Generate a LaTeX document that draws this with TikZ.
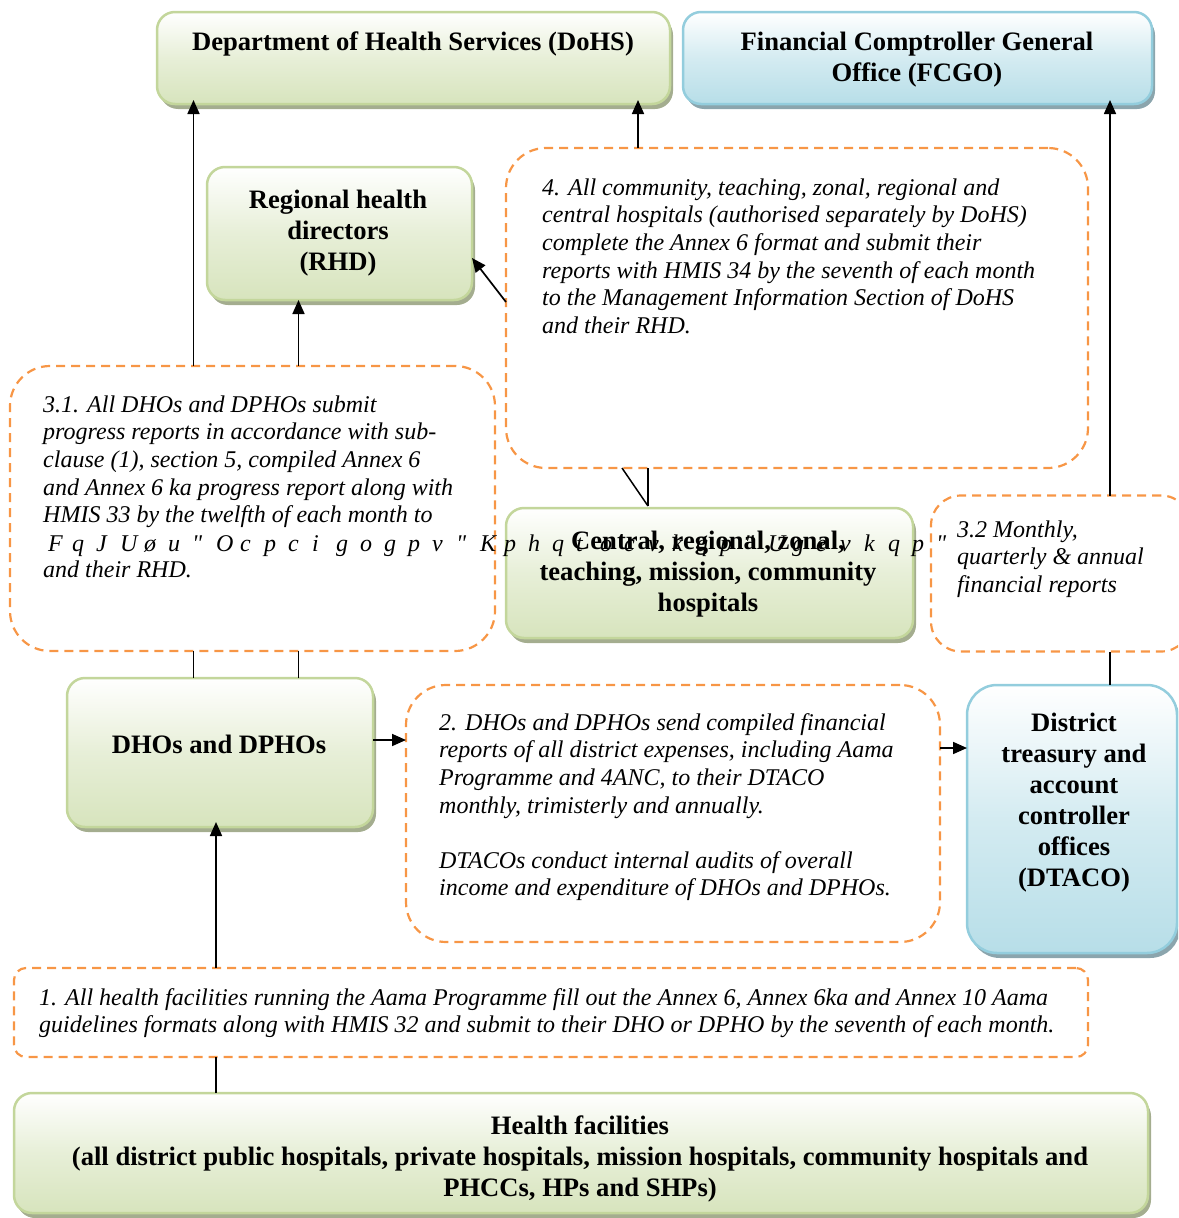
\documentclass[tikz,border=0pt]{standalone}
\usepackage{fontspec}
\setmainfont{Liberation Serif}
\newfontfamily\rawfont{Liberation Serif}
\usetikzlibrary{arrows.meta,shadows,calc}
\definecolor{gfill}{HTML}{D7E4BD}
\definecolor{gline}{HTML}{C3D69B}
\definecolor{gshad}{HTML}{A4AD8F}
\definecolor{bfill}{HTML}{B7DEE8}
\definecolor{bline}{HTML}{93CDDD}
\definecolor{bshad}{HTML}{8BA5AD}
\definecolor{dorange}{HTML}{F79646}
\newcommand\itxt{\fontsize{24}{27.6}\selectfont\itshape}
\newcommand\rtxt{\fontsize{24}{27.6}\selectfont\rawfont\itshape}
\newcommand\btxt{\fontsize{26.6}{31}\selectfont\bfseries}
\begin{document}
\begin{tikzpicture}[x=1pt,y=-1pt,
  box/.style={rectangle, rounded corners=18pt, line width=2.5pt, inner sep=0pt, outer sep=0pt},
  gbox/.style={box, draw=gline, top color=white, bottom color=gfill, middle color=gfill!60!white,
    drop shadow={shadow xshift=3pt, shadow yshift=-5pt, fill=gshad, opacity=1}},
  bbox/.style={box, draw=bline, top color=white, bottom color=bfill, middle color=bfill!60!white,
    drop shadow={shadow xshift=3pt, shadow yshift=-5pt, fill=bshad, opacity=1}},
  dbox/.style={rectangle, draw=dorange, line width=2.2pt, dash pattern=on 9pt off 6pt,
    rounded corners=40pt, inner sep=0pt, outer sep=0pt},
  itx/.style={anchor=north west, inner sep=0pt, align=left, font=\itxt},
  btx/.style={anchor=north, inner sep=0pt, align=center, font=\btxt},
  arr/.style={-{Triangle[length=14pt,width=12pt]}, line width=1.7pt},
  ln/.style={line width=1.5pt}
]
\useasboundingbox (0,0) rectangle (1178,1218);
\clip (0,0) rectangle (1178,1218);

% solid boxes
\node[gbox, minimum width=513pt, minimum height=92pt] (dohs) at (413.5,58) {};
\node[bbox, minimum width=469pt, minimum height=92pt] (fcgo) at (917.5,58) {};
\node[gbox, minimum width=265pt, minimum height=133pt] (rhd) at (339.5,233.5) {};
\node[gbox, minimum width=407pt, minimum height=130pt] (central) at (709.5,573) {};
\node[gbox, minimum width=306pt, minimum height=149pt] (dhos) at (220,752.5) {};
\node[bbox, minimum width=210pt, minimum height=268pt, rounded corners=30pt] (dtaco) at (1072,819) {};
\node[gbox, minimum width=1134pt, minimum height=120pt] (health) at (581,1153) {};

% dashed boxes
\node[dbox, minimum width=582pt, minimum height=320pt] (b4) at (797,308) {};
\node[dbox, minimum width=485pt, minimum height=285pt] (b31) at (252.5,508.5) {};
\node[dbox, minimum width=260pt, minimum height=156pt, rounded corners=30pt] (b32) at (1061,573.5) {};
\node[dbox, minimum width=534pt, minimum height=257pt] (b2) at (673,813.5) {};
\node[dbox, minimum width=1074pt, minimum height=89pt, rounded corners=12pt] (b1) at (551,1012.5) {};

% bold texts
\node[btx] (dohs-t) at (413,28.8) {\strut Department of Health Services (DoHS)};
\node[btx] (fcgo-t) at (917,28.8) {\strut Financial Comptroller General\\ Office (FCGO)};
\node[btx] (rhd-t) at (338,186.8) {\strut Regional health\\ directors\\ (RHD)};
\node[btx] (central-t) at (708,527.8) {\strut Central, regional, zonal,\\ teaching, mission, community\\ hospitals};
\node[btx] (dhos-t) at (219,731.8) {\strut DHOs and DPHOs};
\node[btx] (dtaco-t) at (1074,709.8) {\strut District\\ treasury and\\ account\\ controller\\ offices\\ (DTACO)};
\node[btx] (health-t) at (580,1112.8) {\strut Health facilities\\ (all district public hospitals, private hospitals, mission hospitals, community hospitals and\\ PHCCs, HPs and SHPs)};

% italic texts
\node[itx] (b4-t) at (542,175.7) {\strut 4. All community, teaching, zonal, regional and\\ central hospitals (authorised separately by DoHS)\\ complete the Annex 6 format and submit their\\ reports with HMIS 34 by the seventh of each month\\ to the Management Information Section of DoHS\\ and their RHD.};
\node[itx] (b31-t) at (43,392.7) {\strut 3.1. All DHOs and DPHOs submit\\ progress reports in accordance with sub-\\ clause (1), section 5, compiled Annex 6\\ and Annex 6 ka progress report along with\\ HMIS 33 by the twelfth of each month to\\ \strut\\ and their RHD.};
\node[itx] (b32-t) at (957,517.7) {\strut 3.2 Monthly,\\ quarterly \& annual\\ financial reports};
\node[itx] (b2-t) at (439,710.7) {\strut 2. DHOs and DPHOs send compiled financial\\ reports of all district expenses, including Aama\\ Programme and 4ANC, to their DTACO\\ monthly, trimisterly and annually.\\ \strut\\ DTACOs conduct internal audits of overall\\ income and expenditure of DHOs and DPHOs.};
\node[itx] (b1-t) at (39,985.7) {\strut 1. All health facilities running the Aama Programme fill out the Annex 6, Annex 6ka and Annex 10 Aama\\ guidelines formats along with HMIS 32 and submit to their DHO or DPHO by the seventh of each month.};

% garbled line
\foreach \c [count=\i from 0] in {F,q,J,U,ø,u,",O,c,p,c,i,g,o,g,p,v,",K,p,h,q,t,o,c,v,k,q,p,",U,g,e,v,k,q,p,"}
  \node[anchor=base west, inner sep=0pt, font=\rtxt] (g\i) at (48+24*\i,551) {\c};

% connector coordinates
\coordinate (xa) at (193.5,0);
\coordinate (xb) at (298.5,0);
\coordinate (xc) at (638,0);
\coordinate (xd) at (1110,0);
\coordinate (xe) at (216,0);
\coordinate (xf) at (622,0);
\coordinate (xg) at (648,0);
\coordinate (ya) at (0,740);
\coordinate (yb) at (0,748);
\coordinate (yc) at (0,302);
\coordinate (yd) at (0,258);

% connectors
\draw[arr, shorten >=-4pt] (b31.north -| xa) -- (dohs.south -| xa);
\draw[arr] (b31.north -| xb) -- (rhd.south -| xb);
\draw[ln] (dhos.north -| xa) -- (b31.south -| xa);
\draw[ln] (dhos.north -| xb) -- (b31.south -| xb);
\draw[arr, shorten >=-4pt] (b4.north -| xc) -- (dohs.south -| xc);
\draw[arr] (b4.west |- yc) -- (rhd.east |- yd);
\draw[ln] (b4.south -| xf) -- ($(central.north -| xg)+(0,-2)$);
\draw[ln] (b4.south -| xg) -- ($(central.north -| xg)+(0,-2)$);
\draw[arr, shorten >=-4pt] (b32.north -| xd) -- (fcgo.south -| xd);
\draw[ln] (dtaco.north -| xd) -- (b32.south -| xd);
\draw[arr] (dhos.east |- ya) -- (b2.west |- ya);
\draw[arr] (b2.east |- yb) -- (dtaco.west |- yb);
\draw[arr, shorten >=-5pt] (b1.north -| xe) -- (dhos.south -| xe);
\draw[ln] (health.north -| xe) -- (b1.south -| xe);
\end{tikzpicture}
\end{document}
